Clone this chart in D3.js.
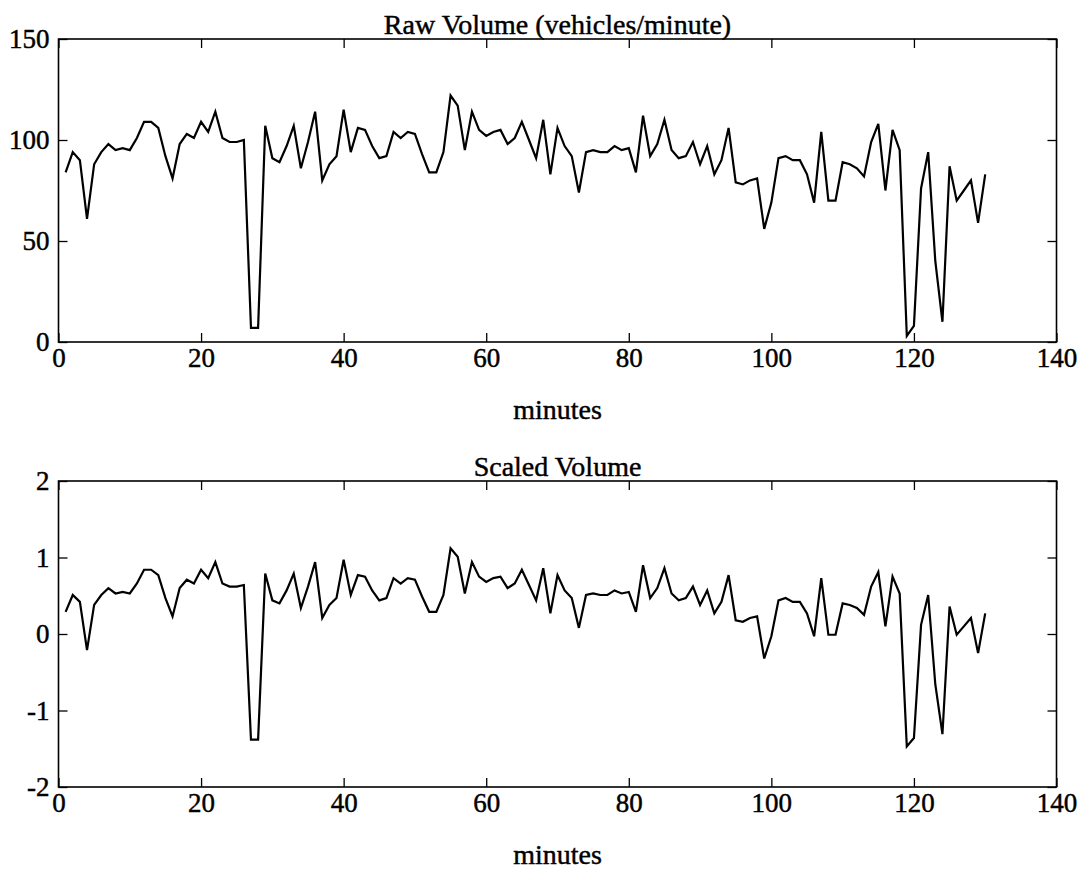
<!DOCTYPE html>
<html>
<head>
<meta charset="utf-8">
<script src="https://cdn.jsdelivr.net/npm/d3@7/dist/d3.min.js"></script>
<style>
  body { margin: 0; background: #fff; }
  text { font-family: "Liberation Serif", "Times New Roman", serif; fill: #000; stroke: #000; stroke-width: 0.45px; }
</style>
</head>
<body>
<div id="chart"></div>
<script>
// minute index for every sample
let minutes = [
  1,2,3,4,5,6,7,8,9,10,11,12,13,14,15,16,17,18,19,20,21,22,23,24,25,26,
  27,28,29,30,31,32,33,34,35,36,37,38,39,40,41,42,43,44,45,46,47,48,49,50,51,52,
  53,54,55,56,57,58,59,60,61,62,63,64,65,66,67,68,69,70,71,72,73,74,75,76,77,78,
  79,80,81,82,83,84,85,86,87,88,89,90,91,92,93,94,95,96,97,98,99,100,101,102,103,104,
  105,106,107,108,109,110,111,112,113,114,115,116,117,118,119,120,121,122,123,124,125,126,127,128,129,130
];

// raw volume, vehicles per minute
let rawVolume = [
  84,94,90,61,88,94,98,95,96,95,101,109,109,106,92,81,98,103,101,109,104,114,101,99,99,100,
  7,7,107,91,89,97,107,86,99,114,80,88,92,115,94,106,105,97,91,92,104,101,104,103,93,84,
  84,94,122,117,95,114,105,102,104,105,98,101,109,100,91,110,83,106,97,92,74,94,95,94,
  94,97,95,96,84,112,92,98,110,95,91,92,99,88,97,83,90,106,79,78,80,81,56,69,91,92,
  90,90,83,69,104,70,70,89,88,86,82,99,108,75,105,95,3,8,76,94,40,10,87,70,75,80,59,83
];

// scaled volume
let scaledVolume = [
  0.29,0.51,0.42,-0.21,0.38,0.51,0.60,0.53,0.55,0.53,0.66,0.84,0.84,0.77,0.47,0.23,0.60,0.71,0.66,0.84,0.73,0.94,0.66,0.62,0.62,0.64,
  -1.38,-1.38,0.79,0.44,0.40,0.57,0.79,0.34,0.62,0.94,0.21,0.38,0.47,0.97,0.51,0.77,0.75,0.57,0.44,0.47,0.73,0.66,0.73,0.71,0.49,0.29,
  0.29,0.51,1.12,1.01,0.53,0.94,0.75,0.68,0.73,0.75,0.60,0.66,0.84,0.64,0.44,0.86,0.27,0.77,0.57,0.47,0.08,0.51,0.53,0.51,
  0.51,0.57,0.53,0.55,0.29,0.90,0.47,0.60,0.86,0.53,0.44,0.47,0.62,0.38,0.57,0.27,0.42,0.77,0.18,0.16,0.21,0.23,-0.32,-0.03,0.44,0.47,
  0.42,0.42,0.27,-0.03,0.73,-0.01,-0.01,0.40,0.38,0.34,0.25,0.62,0.81,0.10,0.75,0.53,-1.47,-1.36,0.12,0.51,-0.66,-1.31,0.36,-0.01,0.10,0.21,-0.25,0.27
];

let xTicks = [0, 20, 40, 60, 80, 100, 120, 140];
let rawTicks = [0, 50, 100, 150];
let scaledTicks = [-2, -1, 0, 1, 2];

let width = 1087,
    height = 870;
let left = 58.5,
    right = 1056.5;

let svg = d3.select('#chart')
  .append('svg')
  .attr('width', width)
  .attr('height', height)
  .style('background-color', '#fff');

let x = d3.scaleLinear()
  .domain([0, 140])
  .range([left, right]);

// one MATLAB-style boxed panel
function panel(top, h, values, yTicks, title) {
  let bottom = top + h;
  let y = d3.scaleLinear()
    .domain(d3.extent(yTicks))
    .range([bottom, top]);

  let g = svg.append('g');

  // inward ticks on all four sides
  g.append('g')
    .attr('transform', `translate(0,${bottom})`)
    .call(d3.axisBottom(x).tickValues(xTicks).tickSize(-9).tickPadding(6).tickFormat(d => String(d)))
    .call(a => a.select('.domain').remove())
    .attr('font-size', 27)
    .attr('font-family', '"Liberation Serif", "Times New Roman", serif');

  g.append('g')
    .attr('transform', `translate(0,${top})`)
    .call(d3.axisTop(x).tickValues(xTicks).tickSize(-9).tickFormat(''))
    .call(a => a.select('.domain').remove());

  g.append('g')
    .attr('transform', `translate(${left},0)`)
    .call(d3.axisLeft(y).tickValues(yTicks).tickSize(-9).tickPadding(9).tickFormat(d => String(d)))
    .call(a => a.select('.domain').remove())
    .attr('font-size', 27)
    .attr('font-family', '"Liberation Serif", "Times New Roman", serif');

  g.append('g')
    .attr('transform', `translate(${right},0)`)
    .call(d3.axisRight(y).tickValues(yTicks).tickSize(-9).tickFormat(''))
    .call(a => a.select('.domain').remove());

  g.selectAll('.tick line')
    .attr('stroke', '#000')
    .attr('stroke-width', 1.3);

  g.selectAll('.tick text').style('fill', '#000');

  // box
  g.append('rect')
    .attr('x', left)
    .attr('y', top)
    .attr('width', right - left)
    .attr('height', h)
    .attr('fill', 'none')
    .attr('stroke', '#000')
    .attr('stroke-width', 1.6);

  // data line
  g.append('path')
    .datum(values)
    .attr('fill', 'none')
    .attr('stroke', '#000')
    .attr('stroke-width', 2.2)
    .attr('d', d3.line()
      .x((d, i) => x(minutes[i]))
      .y(d => y(d)));

  // title
  g.append('text')
    .attr('x', (left + right) / 2)
    .attr('y', top - 5)
    .attr('text-anchor', 'middle')
    .attr('font-size', 28)
    .text(title);

  // x label
  g.append('text')
    .attr('x', (left + right) / 2)
    .attr('y', bottom + 77)
    .attr('text-anchor', 'middle')
    .attr('font-size', 28)
    .text('minutes');
}

panel(39, 303, rawVolume, rawTicks, 'Raw Volume (vehicles/minute)');
panel(481, 306, scaledVolume, scaledTicks, 'Scaled Volume');
</script>
</body>
</html>
